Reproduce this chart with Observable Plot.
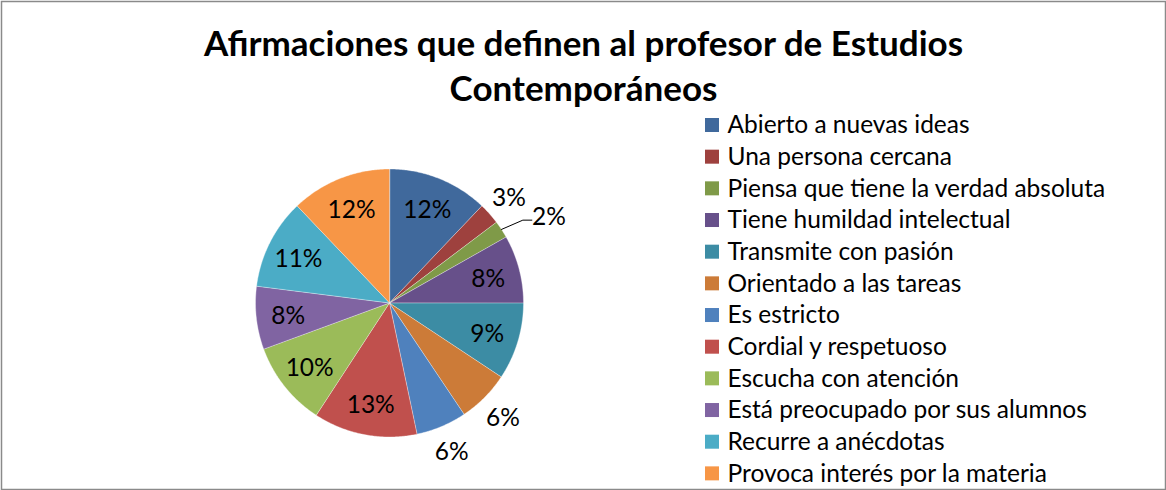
<!DOCTYPE html>
<html>
<head>
<meta charset="utf-8">
<script src="https://cdn.jsdelivr.net/npm/d3@7"></script>
<script src="https://cdn.jsdelivr.net/npm/@observablehq/plot@0.6"></script>
<style>
  html, body { margin: 0; padding: 0; background: #fff; }
  #chart svg { display: block; }
</style>
</head>
<body>
<div id="chart"></div>
<script>
// ---- data ----
const titleLines = ["Afirmaciones que definen al profesor de Estudios", "Contemporáneos"];
const categories = [
  "Abierto a nuevas ideas",
  "Una persona cercana",
  "Piensa que tiene la verdad absoluta",
  "Tiene humildad intelectual",
  "Transmite con pasión",
  "Orientado a las tareas",
  "Es estricto",
  "Cordial y respetuoso",
  "Escucha con atención",
  "Está preocupado por sus alumnos",
  "Recurre a anécdotas",
  "Provoca interés por la materia"
];
const values = [12.1, 2.6, 2.1, 8.2, 9.3, 6.3, 6.1, 12.5, 10.2, 7.6, 10.9, 12.1];
const colors = ["#40699C", "#9E413E", "#7F9A48", "#67508A", "#3C8CA4", "#CC7B38",
                "#4F81BD", "#C0504D", "#9BBB59", "#8064A2", "#4BACC6", "#F79646"];

// ---- layout ----
const W = 1166, H = 490;
const cx = 389, cy = 302.5, R = 134;
const FONT = "Lato, 'Open Sans', sans-serif";
const FS = 24.5;

const total = d3.sum(values);
let acc = 0;
const slices = categories.map((cat, i) => {
  const a0 = acc / total * 2 * Math.PI;
  acc += values[i];
  const a1 = acc / total * 2 * Math.PI;
  return {cat, value: values[i], a0, a1, mid: (a0 + a1) / 2};
});

const polyPts = slices.flatMap(s => {
  const pts = [{cat: s.cat, x: cx, y: cy}];
  const n = Math.max(2, Math.ceil((s.a1 - s.a0) / 0.01));
  for (let k = 0; k <= n; k++) {
    const a = s.a0 + (s.a1 - s.a0) * k / n;
    pts.push({cat: s.cat, x: cx + R * Math.sin(a), y: cy - R * Math.cos(a)});
  }
  return pts;
});

const inR = 102, outGap = 26;
const labels = slices.map(s => {
  const out = s.value < 7;
  const dx = Math.sin(s.mid), dy = -Math.cos(s.mid);
  const r = out ? R + outGap : inR;
  return {text: Math.round(s.value) + "%", x: cx + r * dx, y: cy + r * dy + 2, out, s, leader: false};
});
for (let i = 1; i < labels.length; i++) {
  const p = labels[i - 1], l = labels[i];
  if (p.out && l.out && Math.abs(p.y - l.y) < 26 && Math.abs(p.x - l.x) < 40) {
    l.x = p.x + 40;
    l.leader = true;
  }
}
const leaderPts = labels.filter(l => l.leader).flatMap((l, j) => [
  {id: j, x: cx + R * Math.sin(l.s.mid), y: cy - R * Math.cos(l.s.mid)},
  {id: j, x: l.x - 26, y: l.y + 3},
  {id: j, x: l.x - 17, y: l.y + 3}
]);

const legY0 = 125, legStep = 31.67, legX = 705, legSize = 14;
const legend = categories.map((cat, i) => ({cat, y: legY0 + i * legStep}));

const chart = Plot.plot({
  width: W, height: H, margin: 0,
  x: {domain: [0, W], range: [0, W], axis: null},
  y: {domain: [0, H], range: [0, H], axis: null},
  color: {domain: categories, range: colors},
  style: {fontFamily: FONT, background: "#fff", color: "#000"},
  marks: [
    Plot.frame({stroke: "#8a8a8a", strokeWidth: 1.5, inset: 1}),
    Plot.text(titleLines, {
      x: () => 583, y: (d, i) => 44 + i * 45, text: d => d,
      fontSize: 35, fontWeight: "bold", fill: "#000"
    }),
    Plot.line(polyPts, {x: "x", y: "y", z: "cat", fill: "cat", stroke: "#ffffff",
      strokeWidth: 0.6, strokeOpacity: 0.6, curve: "linear-closed"}),
    Plot.line(leaderPts, {x: "x", y: "y", z: "id", stroke: "#000", strokeWidth: 1}),
    Plot.text(labels, {x: "x", y: "y", text: "text", fontSize: FS, fill: "#000"}),
    Plot.rect(legend, {x1: () => legX, x2: () => legX + legSize,
      y1: d => d.y - legSize / 2, y2: d => d.y + legSize / 2, fill: "cat"}),
    Plot.text(legend, {x: () => legX + 22, y: "y", text: "cat", textAnchor: "start",
      fontSize: FS, fill: "#000"})
  ]
});
document.getElementById("chart").appendChild(chart);
</script>
</body>
</html>
